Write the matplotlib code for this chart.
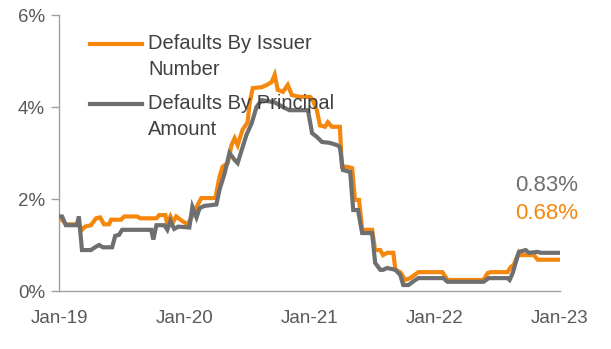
import matplotlib
matplotlib.use("Agg")
import matplotlib.pyplot as plt
import matplotlib.dates as mdates
from matplotlib.lines import Line2D
import pandas as pd

plt.rcParams["font.family"] = ["Liberation Sans", "DejaVu Sans"]

# Trailing default rate, % -- by issuer count
issuer_dates = [
    "2019-01-01", "2019-01-10", "2019-01-21", "2019-02-28", "2019-03-09", "2019-03-18",
    "2019-04-04", "2019-04-19", "2019-05-01", "2019-05-12", "2019-05-27", "2019-06-02",
    "2019-07-01", "2019-07-10", "2019-08-17", "2019-08-26", "2019-10-12", "2019-10-20",
    "2019-11-07", "2019-11-13", "2019-11-22", "2019-11-30", "2019-12-09", "2019-12-21",
    "2020-01-10", "2020-01-19", "2020-02-03", "2020-02-20", "2020-04-01", "2020-04-13",
    "2020-04-22", "2020-05-07", "2020-05-18", "2020-05-27", "2020-06-05", "2020-06-19",
    "2020-07-04", "2020-07-10", "2020-07-19", "2020-08-14", "2020-08-29", "2020-09-12",
    "2020-09-21", "2020-09-30", "2020-10-15", "2020-10-29", "2020-11-10", "2020-12-03",
    "2021-01-02", "2021-01-10", "2021-01-22", "2021-01-31", "2021-02-15", "2021-02-23",
    "2021-03-07", "2021-03-30", "2021-04-05", "2021-04-20", "2021-05-05", "2021-05-13",
    "2021-05-25", "2021-06-03", "2021-07-02", "2021-07-11", "2021-07-26", "2021-08-03",
    "2021-08-15", "2021-09-02", "2021-09-08", "2021-09-22", "2021-10-07", "2021-10-21",
    "2021-11-14", "2022-01-23", "2022-02-07", "2022-05-23", "2022-06-04", "2022-06-13",
    "2022-08-01", "2022-08-10", "2022-08-19", "2022-09-03", "2022-09-08", "2022-10-17",
    "2022-10-28", "2022-12-30",
]
issuer_values = [
    1.55, 1.55, 1.45, 1.45, 1.33, 1.40,
    1.43, 1.58, 1.60, 1.45, 1.45, 1.55,
    1.55, 1.62, 1.62, 1.58, 1.58, 1.65,
    1.65, 1.45, 1.62, 1.50, 1.62, 1.55,
    1.45, 1.55, 1.78, 2.02, 2.02, 2.48,
    2.70, 2.78, 3.17, 3.32, 3.17, 3.50,
    3.67, 4.09, 4.41, 4.43, 4.48, 4.54,
    4.70, 4.37, 4.33, 4.48, 4.26, 4.22,
    4.22, 4.15, 3.93, 3.60, 3.57, 3.67,
    3.57, 3.57, 2.70, 2.70, 2.67, 1.98,
    1.98, 1.33, 1.33, 0.89, 0.89, 0.78,
    0.83, 0.83, 0.46, 0.41, 0.24, 0.28,
    0.41, 0.41, 0.24, 0.24, 0.39, 0.41,
    0.41, 0.52, 0.57, 0.83, 0.78, 0.78,
    0.68, 0.68,
]

# Trailing default rate, % -- by principal amount
principal_dates = [
    "2019-01-01", "2019-01-10", "2019-01-21", "2019-02-22", "2019-02-28", "2019-03-09",
    "2019-04-04", "2019-04-16", "2019-04-28", "2019-05-09", "2019-06-05", "2019-06-14",
    "2019-06-25", "2019-07-04", "2019-09-27", "2019-10-03", "2019-10-12", "2019-11-04",
    "2019-11-13", "2019-11-22", "2019-12-03", "2019-12-15", "2020-01-16", "2020-01-25",
    "2020-02-06", "2020-02-15", "2020-02-29", "2020-04-04", "2020-04-13", "2020-04-28",
    "2020-05-12", "2020-05-27", "2020-06-05", "2020-06-17", "2020-07-01", "2020-07-16",
    "2020-07-30", "2020-08-14", "2020-09-21", "2020-10-20", "2020-11-03", "2020-12-27",
    "2021-01-08", "2021-01-22", "2021-02-06", "2021-03-01", "2021-03-22", "2021-03-30",
    "2021-04-08", "2021-04-29", "2021-05-08", "2021-05-22", "2021-06-03", "2021-07-02",
    "2021-07-11", "2021-07-26", "2021-08-03", "2021-08-15", "2021-09-08", "2021-09-22",
    "2021-10-01", "2021-10-16", "2021-11-05", "2021-11-14", "2022-01-26", "2022-02-07",
    "2022-05-23", "2022-06-07", "2022-08-01", "2022-08-07", "2022-08-16", "2022-09-03",
    "2022-09-23", "2022-10-02", "2022-10-28", "2022-11-06", "2022-12-30",
]
principal_values = [
    1.62, 1.62, 1.43, 1.43, 1.62, 0.89,
    0.89, 0.95, 1.00, 0.95, 0.95, 1.20,
    1.22, 1.33, 1.33, 1.12, 1.43, 1.43,
    1.33, 1.52, 1.35, 1.40, 1.38, 1.83,
    1.60, 1.80, 1.85, 1.88, 2.20, 2.56,
    3.00, 2.85, 2.78, 3.07, 3.40, 3.65,
    4.00, 4.15, 4.10, 3.98, 3.93, 3.93,
    3.43, 3.35, 3.24, 3.22, 3.17, 3.13,
    2.63, 2.59, 1.76, 1.76, 1.26, 1.26,
    0.61, 0.46, 0.46, 0.50, 0.46, 0.35,
    0.13, 0.13, 0.24, 0.28, 0.28, 0.20,
    0.20, 0.28, 0.28, 0.24, 0.39, 0.85,
    0.89, 0.83, 0.85, 0.83, 0.83,
]

series_labels = [["Defaults By Issuer", "Number"], ["Defaults By Principal", "Amount"]]
y_ticks = [0, 2, 4, 6]
x_tick_dates = ["2019-01-01", "2020-01-01", "2021-01-01", "2022-01-01", "2023-01-01"]

ORANGE = "#F5870C"
GREY = "#6E6F71"
TEXT = "#595959"

issuer_x = pd.to_datetime(issuer_dates)
principal_x = pd.to_datetime(principal_dates)

fig = plt.figure(figsize=(6.11, 3.49), dpi=100)
ax = fig.add_axes([59 / 611, 58 / 349, 501 / 611, 276 / 349])

ax.plot(issuer_x, issuer_values, color=ORANGE, lw=3.0, solid_joinstyle="miter", zorder=2)
ax.plot(principal_x, principal_values, color=GREY, lw=3.0, solid_joinstyle="miter", zorder=3)

ax.set_ylim(0, 6)
ax.set_xlim(pd.Timestamp("2019-01-01"), pd.Timestamp("2023-01-01"))
ax.set_yticks(y_ticks)
ax.set_yticklabels([f"{v}%" for v in y_ticks])
ax.set_xticks(pd.to_datetime(x_tick_dates))
ax.xaxis.set_major_formatter(mdates.DateFormatter("%b-%y"))

for side in ("top", "right"):
    ax.spines[side].set_visible(False)
for side in ("left", "bottom"):
    ax.spines[side].set_color("#A0A0A0")
    ax.spines[side].set_linewidth(1.0)

ax.tick_params(axis="y", length=6, width=1, color="#A0A0A0", pad=4,
               labelsize=13.5, labelcolor=TEXT)
ax.tick_params(axis="x", length=0, pad=14, labelsize=13.5, labelcolor=TEXT)

# Legend drawn by hand so each handle sits on the first text line
legend_rows = [(0.895, ORANGE), (0.678, GREY)]
for (y0, col), lines in zip(legend_rows, series_labels):
    ax.add_line(Line2D([0.062, 0.166], [y0, y0], transform=ax.transAxes,
                       color=col, lw=3.0, zorder=4))
    for k, txt in enumerate(lines):
        ax.text(0.178, y0 - k * 0.092, txt, transform=ax.transAxes,
                ha="left", va="center", fontsize=14.5, color="#404040", zorder=5)

# Latest values
ax.text(1.036, 0.384, f"{principal_values[-1]:.2f}%", transform=ax.transAxes,
        ha="right", va="center", fontsize=16, color=GREY, clip_on=False)
ax.text(1.036, 0.279, f"{issuer_values[-1]:.2f}%", transform=ax.transAxes,
        ha="right", va="center", fontsize=16, color=ORANGE, clip_on=False)

fig.savefig("out.png", dpi=100)
